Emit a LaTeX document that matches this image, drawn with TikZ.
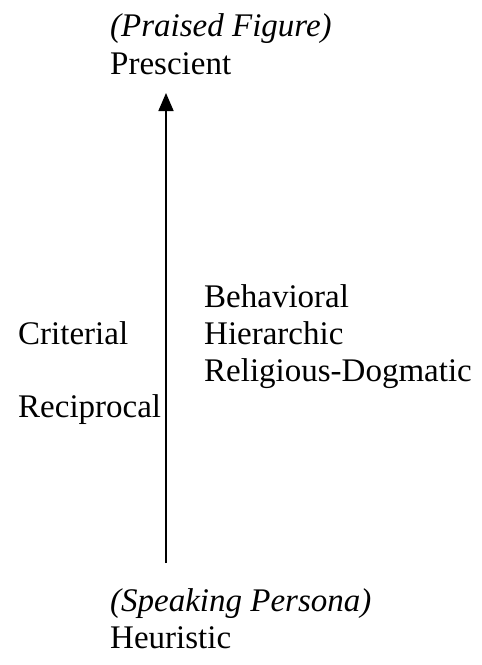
\documentclass[tikz,border=0pt]{standalone}
\usepackage{fontspec}
\setmainfont{Liberation Serif}
\usetikzlibrary{arrows.meta}
\begin{document}
\begin{tikzpicture}[x=1pt,y=-1pt,
  lbl/.style={anchor=base west,inner sep=0pt,font=\fontsize{33}{38}\selectfont},
  ital/.style={lbl,font=\fontsize{33}{38}\selectfont\itshape},
  axis/.style={line width=1.7pt,-{Triangle[length=18pt,width=15pt]}}]
\useasboundingbox (0,0) rectangle (482,665);
\node[ital] (pf) at (110,36) {(Praised Figure)};
\node[lbl] (pr) at (110,74) {Prescient};
\node[lbl] (cr) at (18,344) {Criterial};
\node[lbl] (re) at (18,417) {Reciprocal};
\node[lbl] (be) at (204,307) {Behavioral};
\node[lbl] (hi) at (204,344) {Hierarchic};
\node[lbl] (rd) at (204,381) {Religious-Dogmatic};
\node[ital] (sp) at (110,611) {(Speaking Persona)};
\node[lbl] (he) at (110,648) {Heuristic};
\coordinate (bot) at (166,563);
\coordinate (top) at (166,93);
\draw[axis] (bot) -- (top);
\end{tikzpicture}
\end{document}
